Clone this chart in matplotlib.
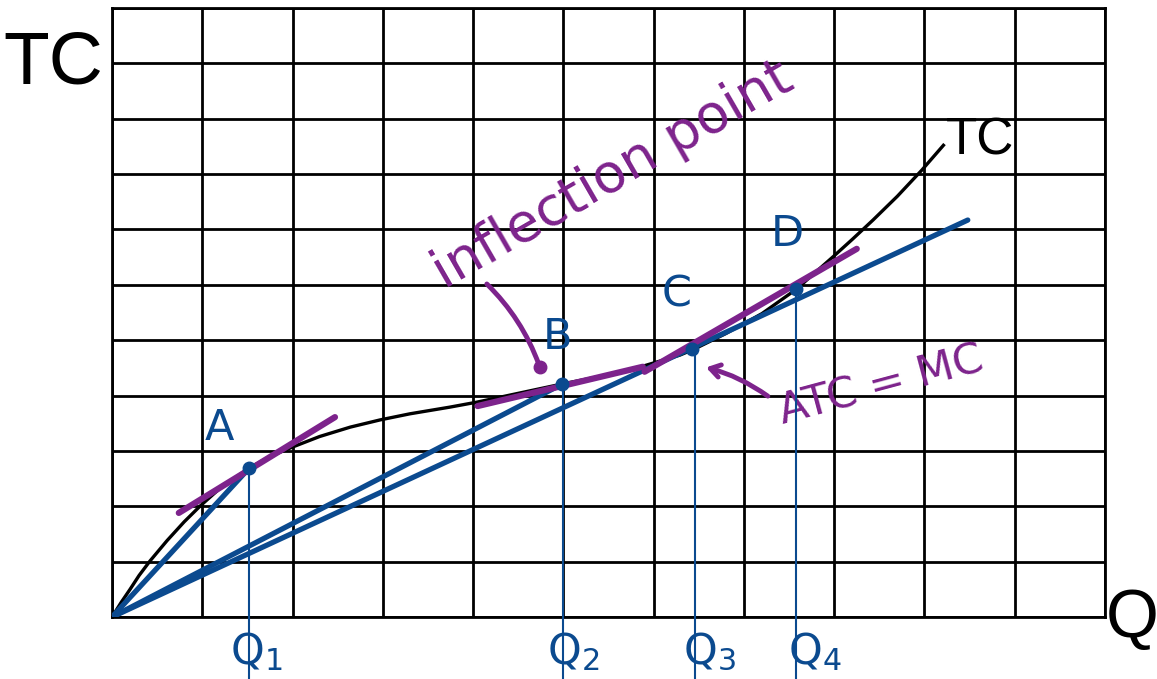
import matplotlib
matplotlib.use("Agg")
import matplotlib.pyplot as plt

# Total cost curve (quantity, total cost) in grid units
tc_q = [0, 0.1, 0.2, 0.3, 0.42, 0.61, 0.8, 0.98, 1.2, 1.52, 1.75, 2.0, 2.3, 2.64,
        2.97, 3.3, 3.74, 4.04, 4.5, 4.99, 5.45, 5.88, 6.29, 6.45, 6.8, 7.2, 7.58,
        7.99, 8.2, 8.43, 8.7, 8.97, 9.21]
tc = [0, 0.26, 0.5, 0.75, 1.01, 1.38, 1.72, 2.01, 2.33, 2.69, 2.9, 3.07, 3.26, 3.43,
      3.56, 3.67, 3.79, 3.88, 4.04, 4.21, 4.36, 4.53, 4.73, 4.84, 5.12, 5.48, 5.92,
      6.51, 6.82, 7.17, 7.6, 8.07, 8.52]

# Marked points on the curve
pt_names = ["A", "B", "C", "D"]
pt_q = [1.52, 4.99, 6.43, 7.58]
pt_tc = [2.69, 4.21, 4.84, 5.92]
q_names = ["$\\mathregular{Q_1}$", "$\\mathregular{Q_2}$",
           "$\\mathregular{Q_3}$", "$\\mathregular{Q_4}$"]
q_lines = [1.52, 5.0, 6.46, 7.58]

# Tangent segments (start, end)
tan_a = [(0.74, 1.88), (2.47, 3.61)]
tan_b = [(4.05, 3.81), (5.88, 4.52)]
tan_cd = [(5.9, 4.43), (8.25, 6.65)]

# Rays from the origin
ray_ends = [(1.52, 2.69), (4.99, 4.21), (9.48, 7.17)]

BLUE = "#0B4A8F"
PURPLE = "#7D238C"

fig = plt.figure(figsize=(11.57, 6.79), dpi=100)
ax = fig.add_axes([112 / 1157, 62 / 679, 993 / 1157, 609 / 679])
ax.set_xlim(0, 11)
ax.set_ylim(0, 11)
ax.set_xticks(range(12))
ax.set_yticks(range(12))
ax.tick_params(length=0, labelbottom=False, labelleft=False)
ax.grid(True, color="black", lw=2.0)
for s in ax.spines.values():
    s.set_color("black")
    s.set_linewidth(2.0)

# Rays from the origin
for qx, ty in ray_ends:
    ax.plot([0, qx], [0, ty], color=BLUE, lw=3.8, solid_capstyle="round", zorder=4)

# Total cost curve
ax.plot(tc_q, tc, color="black", lw=2.4, zorder=3, solid_joinstyle="round")

# Tangents
for seg in (tan_a, tan_b, tan_cd):
    ax.plot([seg[0][0], seg[1][0]], [seg[0][1], seg[1][1]], color=PURPLE,
            lw=4.5, solid_capstyle="round", zorder=5)

# Drop lines to the quantity axis
for qx, ty in zip(q_lines, pt_tc):
    ax.plot([qx, qx], [ty, -1.2], color=BLUE, lw=1.5, clip_on=False, zorder=4)

# Points
ax.plot(pt_q, pt_tc, "o", color=BLUE, ms=9, zorder=6)

# Point labels
label_xy = [(1.185, 3.41), (4.93, 5.06), (6.25, 5.82), (7.48, 6.92)]
for name, (lx, ly) in zip(pt_names, label_xy):
    ax.text(lx, ly, name, color=BLUE, fontsize=31, ha="center", va="center",
            family="DejaVu Sans")

# Quantity labels
q_label_x = [1.31, 4.82, 6.33, 7.49]
for name, lx in zip(q_names, q_label_x):
    ax.text(lx, -0.63, name, color=BLUE, fontsize=31, ha="left", va="center",
            clip_on=False)

# Annotations
ax.text(5.55, 7.98, "inflection point", color=PURPLE, fontsize=39, rotation=30,
        ha="center", va="center", rotation_mode="anchor")
ax.annotate("", xy=(4.74, 4.51), xytext=(4.13, 6.05),
            arrowprops=dict(arrowstyle="-", color=PURPLE, lw=3.5,
                            connectionstyle="arc3,rad=-0.12"))
ax.plot([4.74], [4.51], "o", color=PURPLE, ms=9, zorder=5)

ax.text(8.52, 4.18, "ATC = MC", color=PURPLE, fontsize=31, rotation=15,
        ha="center", va="center", rotation_mode="anchor")
ax.annotate("", xy=(6.55, 4.52), xytext=(7.29, 3.96),
            arrowprops=dict(arrowstyle="->,head_length=0.7,head_width=0.45",
                            color=PURPLE, lw=3.5,
                            connectionstyle="arc3,rad=0.1"))

# Axis titles and curve label
fig.text(3 / 1157, (679 - 83) / 679, "TC", fontsize=54, family="Liberation Sans",
         va="baseline", ha="left")
fig.text(1106 / 1157, (679 - 637) / 679, "Q", fontsize=49, family="Liberation Sans",
         va="baseline", ha="left")
ax.text(9.24, 8.35, "TC", fontsize=37, family="Liberation Sans",
        va="baseline", ha="left")

fig.savefig("out.png", dpi=100)
